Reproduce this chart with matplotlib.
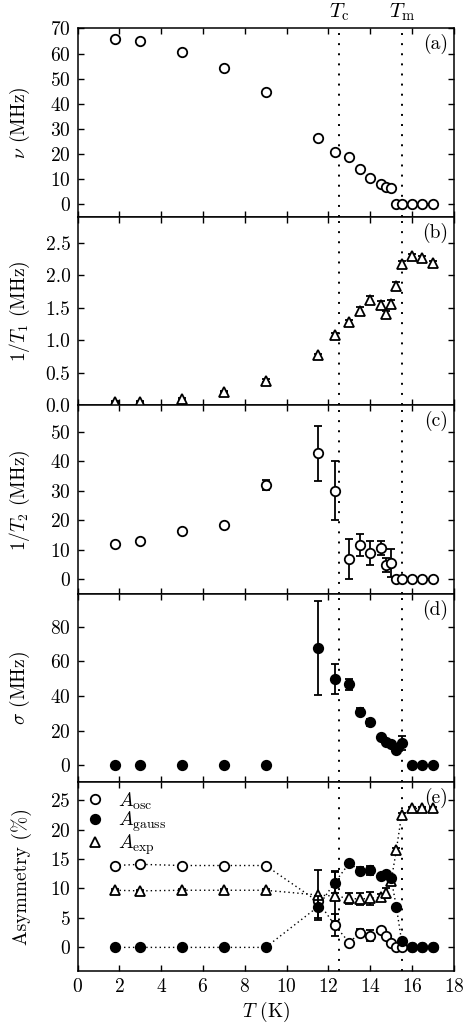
import matplotlib
matplotlib.use("Agg")
import matplotlib.pyplot as plt
from matplotlib.lines import Line2D

plt.rcParams['font.family'] = 'serif'
plt.rcParams['font.serif'] = ['cmr10', 'DejaVu Serif']
plt.rcParams['mathtext.fontset'] = 'cm'
plt.rcParams['axes.formatter.use_mathtext'] = True
plt.rcParams['axes.unicode_minus'] = False
plt.rcParams['font.size'] = 14

# ---------------- data ----------------
T_all = [1.8, 3, 5, 7, 9, 11.5, 12.3, 13, 13.5, 14, 14.5, 14.75, 15, 15.25, 15.5, 16, 16.5, 17]

# (a) precession frequency
nu = [66.0, 65.1, 60.6, 54.2, 44.8, 26.3, 20.8, 18.9, 13.9, 10.7, 8.3, 6.9, 6.35, 0, 0, 0, 0, 0]

# (b) 1/T1
inv_T1 = [0.06, 0.06, 0.10, 0.21, 0.38, 0.77, 1.08, 1.28, 1.46, 1.62, 1.55, 1.40, 1.56, 1.84, 2.18, 2.30, 2.27, 2.19]
inv_T1_err = [0.01, 0.01, 0.01, 0.01, 0.02, 0.02, 0.03, 0.03, 0.05, 0.06, 0.06, 0.06, 0.06, 0.06, 0.04, 0.03, 0.03, 0.03]

# (c) 1/T2
inv_T2 = [12.0, 13.0, 16.4, 18.3, 32.0, 42.7, 30.0, 7.0, 11.7, 9.0, 10.5, 4.75, 5.4, 0, 0, 0, 0, 0]
inv_T2_err = [0.5, 0.5, 0.6, 0.6, 1.6, 9.2, 10.0, 6.8, 3.8, 4.0, 2.4, 2.4, 4.8, 0, 0, 0, 0, 0]

# (d) sigma
sigma = [0, 0, 0, 0, 0, 67.8, 49.7, 46.8, 31.0, 24.7, 16.4, 13.5, 12.1, 8.9, 12.9, 0, 0, 0]
sigma_err = [0, 0, 0, 0, 0, 27.0, 8.7, 3.3, 2.0, 2.0, 1.0, 1.0, 1.0, 1.0, 4.0, 0, 0, 0]

# (e) asymmetries
A_osc = [13.9, 14.1, 13.9, 13.9, 13.9, 7.8, 3.8, 0.8, 2.5, 2.0, 2.95, 1.9, 0.8, 0.0, 0.0, 0, 0, 0]
A_osc_err = [0.2, 0.2, 0.2, 0.2, 0.2, 1.0, 1.8, 0.3, 0.6, 0.9, 0.3, 0.3, 0.3, 0.2, 0.2, 0, 0, 0]
A_gauss = [0, 0, 0, 0, 0, 6.9, 11.0, 14.3, 13.05, 13.1, 12.1, 12.4, 11.7, 6.9, 1.1, 0, 0, 0]
A_gauss_err = [0, 0, 0, 0, 0, 1.9, 1.8, 0.4, 0.6, 0.8, 0.4, 0.4, 0.4, 0.3, 0.3, 0, 0, 0]
A_exp = [9.7, 9.6, 9.7, 9.7, 9.7, 8.9, 8.7, 8.35, 8.2, 8.35, 8.5, 9.2, 11.25, 16.5, 22.5, 23.6, 23.6, 23.6]
A_exp_err = [0.2, 0.2, 0.2, 0.2, 0.2, 4.3, 4.2, 0.9, 1.0, 1.1, 0.6, 0.8, 0.6, 0.3, 0.3, 0.2, 0.2, 0.2]

T_c = 12.5
T_m = 15.5

# ---------------- figure ----------------
fig = plt.figure(figsize=(4.63, 10.24), dpi=100)
left, width = 0.1674, 0.8128
bottom0, h = 0.0518, 0.18408
axes = []
for i in range(5):
    b = bottom0 + (4 - i) * h
    ax = fig.add_axes([left, b, width, h], sharex=axes[0] if axes else None)
    axes.append(ax)

ms = 6.8
mew = 1.3
open_kw = dict(marker='o', ms=ms, mfc='white', mec='black', mew=mew, ls='none',
               ecolor='black', elinewidth=1.3, capsize=3, capthick=1.3)
fill_kw = dict(marker='o', ms=ms, mfc='black', mec='black', mew=mew, ls='none',
               ecolor='black', elinewidth=1.3, capsize=3, capthick=1.3)
tri_kw = dict(marker='^', ms=ms, mfc='white', mec='black', mew=mew, ls='none',
              ecolor='black', elinewidth=1.3, capsize=3, capthick=1.3)

ax = axes[0]
ax.plot(T_all, nu, marker='o', ms=ms, mfc='white', mec='black', mew=mew, ls='none', zorder=3)
ax.set_ylim(-5, 70)
ax.set_yticks(range(0, 71, 10))
ax.set_ylabel(r'$\nu$ (MHz)')

ax = axes[1]
ax.errorbar(T_all, inv_T1, yerr=inv_T1_err, zorder=3, **tri_kw)
ax.set_ylim(0, 2.9)
ax.set_yticks([0.0, 0.5, 1.0, 1.5, 2.0, 2.5])
ax.set_yticklabels(['0.0', '0.5', '1.0', '1.5', '2.0', '2.5'])
ax.set_ylabel(r'$1/T_1$ (MHz)')

ax = axes[2]
ax.errorbar(T_all, inv_T2, yerr=inv_T2_err, zorder=3, **open_kw)
ax.set_ylim(-5, 59)
ax.set_yticks(range(0, 51, 10))
ax.set_ylabel(r'$1/T_2$ (MHz)')

ax = axes[3]
ax.errorbar(T_all, sigma, yerr=sigma_err, zorder=3, **fill_kw)
ax.set_ylim(-10, 99)
ax.set_yticks(range(0, 81, 20))
ax.set_ylabel(r'$\sigma$ (MHz)')

ax = axes[4]
dot_ls = (0, (1, 2.2))
ax.plot(T_all, A_osc, color='black', lw=1.0, ls=dot_ls, zorder=2)
ax.plot(T_all, A_exp, color='black', lw=1.0, ls=dot_ls, zorder=2)
ax.plot(T_all, A_gauss, color='black', lw=1.0, ls=dot_ls, zorder=2)
ax.errorbar(T_all, A_osc, yerr=A_osc_err, zorder=3, **open_kw)
ax.errorbar(T_all, A_exp, yerr=A_exp_err, zorder=4, **tri_kw)
ax.errorbar(T_all, A_gauss, yerr=A_gauss_err, zorder=5, **fill_kw)
ax.set_ylim(-4, 28)
ax.set_yticks(range(0, 26, 5))
ax.set_ylabel('Asymmetry (%)')
ax.set_xlabel(r'$T$ (K)', labelpad=3)
handles = [
    Line2D([], [], marker='o', ms=ms, mfc='white', mec='black', mew=mew, ls='none'),
    Line2D([], [], marker='o', ms=ms, mfc='black', mec='black', mew=mew, ls='none'),
    Line2D([], [], marker='^', ms=ms, mfc='white', mec='black', mew=mew, ls='none'),
]
ax.legend(handles, [r'$A_\mathrm{osc}$', r'$A_\mathrm{gauss}$', r'$A_\mathrm{exp}$'],
          loc='upper left', frameon=False, handlelength=1.0, handletextpad=0.7,
          labelspacing=-0.08, borderaxespad=0.15, borderpad=0.25, fontsize=14)

panel_labels = ['(a)', '(b)', '(c)', '(d)', '(e)']
for i, ax in enumerate(axes):
    ax.set_xlim(0, 18)
    ax.set_xticks(range(0, 19, 2))
    ax.tick_params(direction='in', top=True, right=True, length=4.5, width=1.0,
                   labelsize=14, pad=5)
    for s in ax.spines.values():
        s.set_linewidth(1.1)
    ax.axvline(T_c, color='black', lw=1.4, ls=(0, (1, 4.2)), zorder=1)
    ax.axvline(T_m, color='black', lw=1.4, ls=(0, (1, 4.2)), zorder=1)
    ax.text(0.985, 0.97, panel_labels[i], transform=ax.transAxes, ha='right', va='top', fontsize=14)
    ax.yaxis.set_label_coords(-0.122, 0.5)
    if i < 4:
        ax.tick_params(labelbottom=False)

axes[0].text(T_c, 1.03, r'$T_\mathrm{c}$', transform=axes[0].get_xaxis_transform(),
             ha='center', va='bottom', fontsize=15)
axes[0].text(T_m, 1.03, r'$T_\mathrm{m}$', transform=axes[0].get_xaxis_transform(),
             ha='center', va='bottom', fontsize=15)

fig.savefig('out.png', dpi=100)
